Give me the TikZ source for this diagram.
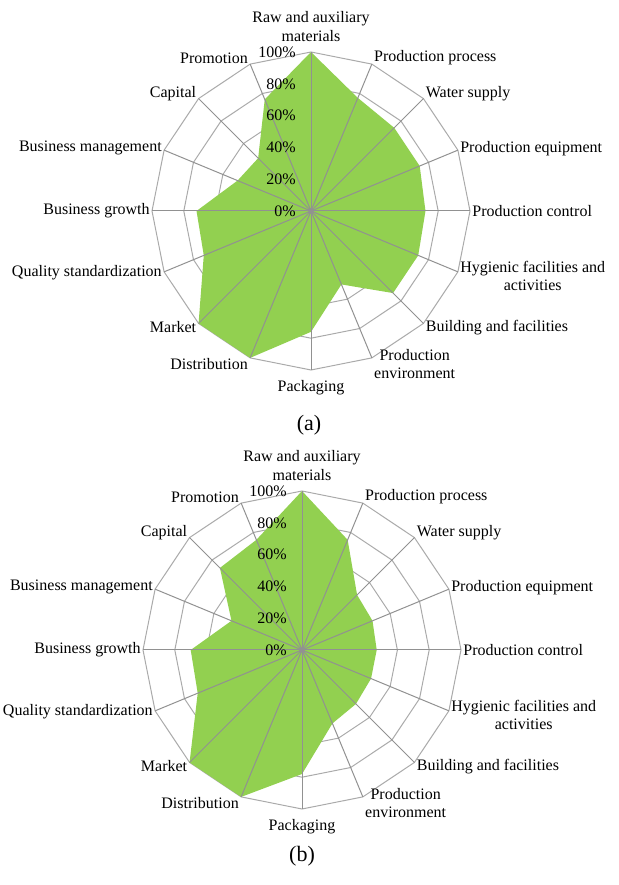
\documentclass[tikz,border=0pt]{standalone}
\usepackage{fontspec}
\setmainfont{Liberation Serif}

\definecolor{radargreen}{RGB}{146,208,80}
\definecolor{ringgray}{RGB}{170,170,170}
\definecolor{spokegray}{RGB}{145,145,145}

\tikzset{
  ring/.style={draw=ringgray,line width=0.5pt},
  spoke/.style={draw=spokegray,line width=0.5pt},
  catlabel/.style={font=\fontsize{8}{9.2}\selectfont,inner sep=1pt,align=center},
  pctlabel/.style={font=\fontsize{8}{9.2}\selectfont,anchor=east,inner sep=0pt},
  caption/.style={font=\fontsize{11}{13}\selectfont}
}

\begin{document}
\begin{tikzpicture}[x=0.5pt,y=0.5pt]
  \useasboundingbox (0,0) rectangle (618,885);
  %\draw[very thin,gray] (0,0) rectangle (618,885);
  \foreach \cx/\cy/\tag/\vals in {311/674/a/{77,74,74,72,73,73,50,76,100,100,73,72,50,47,76},
                                  302/235/b/{75,49,48,47,47,48,50,78,100,100,71,70,48,73,75}} {
    \begin{scope}[shift={(\cx,\cy)}]
      % rings at 20% steps
      \foreach \r in {31.8,63.6,95.4,127.2,159}
        \draw[ring] (90:\r) \foreach \k in {1,...,15} { -- ({90-22.5*\k}:\r) } -- cycle;
      % filled series
      \fill[radargreen] (90:159) \foreach \v [count=\k] in \vals { -- ({90-22.5*\k}:{1.59*\v}) } -- cycle;
      % spokes
      \foreach \k in {0,...,15}
        \draw[spoke] (0,0) -- ({90-22.5*\k}:159);
      \fill[spokegray] (0,0) circle (3);
      % axis values
      \foreach \p in {0,20,...,100}
        \node[pctlabel] (\tag-p\p) at (-15,{1.59*\p}) {\p\%};
      % categories
      \foreach \a/\anc/\dy/\nm/\txt in {
          90/south/4.2pt/raw/{Raw and auxiliary\\materials},
          67.5/west/3pt/process/{Production process},
          45/west/2.5pt/water/{Water supply},
          22.5/west/1pt/equip/{Production equipment},
          0/west/0pt/control/{Production control},
          -22.5/west/-2pt/hygiene/{Hygienic facilities and\\activities},
          -45/west/-2pt/building/{Building and facilities},
          -67.5/west/-3.2pt/environ/{Production\\environment},
          -90/north/-4pt/packaging/{Packaging},
          -112.5/east/-3pt/distrib/{Distribution},
          -135/east/-2pt/market/{Market},
          -157.5/east/-0.5pt/quality/{Quality standardization},
          180/east/0pt/growth/{Business growth},
          157.5/east/1pt/manage/{Business management},
          135/east/2.5pt/capital/{Capital},
          112.5/east/3pt/promo/{Promotion}}
        \node[catlabel,anchor=\anc,yshift=\dy] (\tag-\nm) at (\a:159) {\txt};
    \end{scope}
  }
  \node[caption] (cap-a) at (309,460) {(a)};
  \node[caption] (cap-b) at (302,29) {(b)};
\end{tikzpicture}
\end{document}
